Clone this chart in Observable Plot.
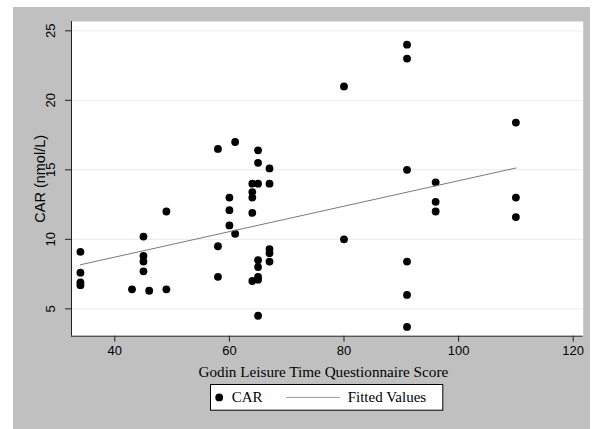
<!DOCTYPE html>
<html><head><meta charset="utf-8">
<script src="https://cdn.jsdelivr.net/npm/d3@7"></script>
<script src="https://cdn.jsdelivr.net/npm/@observablehq/plot@0.6"></script>
<style>
html,body{margin:0;padding:0;background:#fff;}
#wrap{position:absolute;left:13px;top:7px;width:577px;height:422px;background:#c0c0c0;}
#chart{position:absolute;left:0;top:0;}
#legend{position:absolute;left:197px;top:377.3px;}
</style></head><body>
<div id="wrap"><div id="chart"></div><svg id="legend" width="234" height="27"></svg></div>
<script>
const godinScore = [34,34,34,34, 43, 45,45,45,45, 46, 49,49, 58,58,58, 60,60,60, 61,61,
  64,64,64,64,64, 65,65,65,65,65,65,65,65, 67,67,67,67,67, 80,80, 91,91,91,91,91,91, 96,96,96, 110,110,110];
const carValue = [9.1,7.6,6.9,6.7, 6.4, 10.2,8.8,8.4,7.7, 6.3, 12.0,6.4, 16.5,9.5,7.3, 13.0,12.1,11.0, 17.0,10.4,
  14.0,13.4,13.0,11.9,7.0, 16.4,15.5,14.0,8.5,8.0,7.3,7.1,4.5, 15.1,14.0,9.3,9.0,8.4, 21.0,10.0, 24.0,23.0,15.0,8.4,6.0,3.7, 14.1,12.7,12.0, 18.4,13.0,11.6];
const fitScore = [34, 110];
const fitValue = [8.17, 15.13];
const xTicks = [40, 60, 80, 100, 120];
const yTicks = [5, 10, 15, 20, 25];
const xDomain = [32.44, 121.75];
const yDomain = [3.03, 25.67];
const xTitle = "Godin Leisure Time Questionnaire Score";
const yTitle = "CAR (nmol/L)";
const legendLabels = ["CAR", "Fitted Values"];

const points = godinScore.map((g, i) => ({g, c: carValue[i]}));
const fit = fitScore.map((g, i) => ({g, c: fitValue[i]}));

const chart = Plot.plot({
  width: 577, height: 422,
  marginLeft: 58, marginRight: 7.3, marginTop: 14, marginBottom: 93.3,
  style: {background: "transparent", fontFamily: "Liberation Sans", overflow: "visible", color: "#000"},
  x: {domain: xDomain},
  y: {domain: yDomain},
  marks: [
    Plot.frame({fill: "white", stroke: null}),
    Plot.gridY(yTicks, {stroke: "#e3edf0", strokeOpacity: 1, strokeWidth: 1}),
    Plot.ruleX([xDomain[0]], {stroke: "#222", strokeWidth: 1}),
    Plot.ruleY([yDomain[0]], {stroke: "#222", strokeWidth: 1}),
    Plot.axisX({ticks: xTicks, tickSize: 6, tickPadding: 4, fontSize: 13, label: null, stroke: "#222"}),
    Plot.axisY({ticks: yTicks, tickSize: 6, tickFormat: () => "", label: null, stroke: "#222"}),
    Plot.text(yTicks, {y: d => d, text: d => String(d), frameAnchor: "left", dx: -20.7, rotate: -90, fontSize: 13, textAnchor: "middle", lineAnchor: "middle"}),
    Plot.text([yTitle], {frameAnchor: "left", dx: -31.3, rotate: -90, fontSize: 14.5, textAnchor: "middle", lineAnchor: "middle"}),
    Plot.text([xTitle], {frameAnchor: "bottom", dy: 36.3, dx: -4, fontFamily: "Liberation Serif", fontSize: 15.2, textAnchor: "middle", lineAnchor: "middle"}),
    Plot.dot(points, {x: "g", y: "c", r: 3.9, fill: "black", stroke: null}),
    Plot.line(fit, {x: "g", y: "c", stroke: "#7a7a7a", strokeWidth: 1})
  ]
});
document.getElementById("chart").appendChild(chart);

const lg = d3.select("#legend");
lg.append("rect").attr("x", 0.5).attr("y", 0.5).attr("width", 232.3).attr("height", 25.7)
  .attr("fill", "white").attr("stroke", "black").attr("stroke-width", 1);
lg.append("circle").attr("cx", 9.2).attr("cy", 13.4).attr("r", 3.9).attr("fill", "black");
lg.append("text").attr("x", 21.7).attr("y", 18.4).attr("font-family", "Liberation Serif").attr("font-size", 15).text(legendLabels[0]);
lg.append("line").attr("x1", 76).attr("x2", 130).attr("y1", 13.4).attr("y2", 13.4).attr("stroke", "#9a9a9a").attr("stroke-width", 1);
lg.append("text").attr("x", 137.7).attr("y", 18.4).attr("font-family", "Liberation Serif").attr("font-size", 15).text(legendLabels[1]);
lg.append("text").attr("x", 220.5).attr("y", 17).attr("font-family", "Liberation Serif").attr("font-size", 9).attr("fill", "#cfcfcf").text(":");
</script>
</body></html>
